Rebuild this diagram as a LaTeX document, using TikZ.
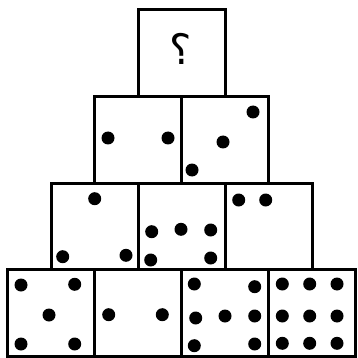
\documentclass[tikz,border=0pt]{standalone}
\usepackage{fontspec}
\newfontfamily\arabicfont[Script=Arabic]{DejaVu Sans}
\begin{document}
\begin{tikzpicture}[
    x=1pt, y=-1pt,
    dicebox/.style={draw, line width=3pt, minimum width=87pt, minimum height=86.5pt, inner sep=0pt, fill=white},
    pip/.style={fill=black}
]
\useasboundingbox (0,0) rectangle (357,358);

\node[dicebox] (q) at (181.5,53.25) {};
\node[font=\arabicfont\fontsize{42}{44}\selectfont, inner sep=0pt] (qmark) at (181,49) {؟};

\node[dicebox] (a1) at (138,139.75) {};
\node[dicebox] (a2) at (225,139.75) {};

\node[dicebox] (b1) at (94.5,226.25) {};
\node[dicebox] (b2) at (181.5,226.25) {};
\node[dicebox] (b3) at (268.5,226.25) {};

\node[dicebox] (c1) at (50.5,312.75) {};
\node[dicebox] (c2) at (137.5,312.75) {};
\node[dicebox] (c3) at (224.5,312.75) {};
\node[dicebox] (c4) at (311.5,312.75) {};

\foreach \px/\py in {108/138, 168/138,
                     253/112, 223/142, 192/170,
                     94.7/198.7, 62.7/256.7, 126/255.3,
                     151.7/231.7, 181/229.3, 210.7/230, 150.7/260, 210.7/258,
                     238.7/200, 265.7/200,
                     21/285, 74.7/284.3, 49/315, 21/344, 74.7/344,
                     108.7/314.7, 162.3/314.7,
                     194.3/284, 254.7/286.7, 195.7/318, 225/316, 254.7/316, 194.3/345.7, 254.7/344,
                     282.3/284, 309.7/284, 337/284,
                     282.3/316, 309.7/316, 337/316,
                     282.3/343.3, 309.7/343.3, 337/343.3}
    \fill[pip] (\px,\py) circle (6.5pt);

\end{tikzpicture}
\end{document}
